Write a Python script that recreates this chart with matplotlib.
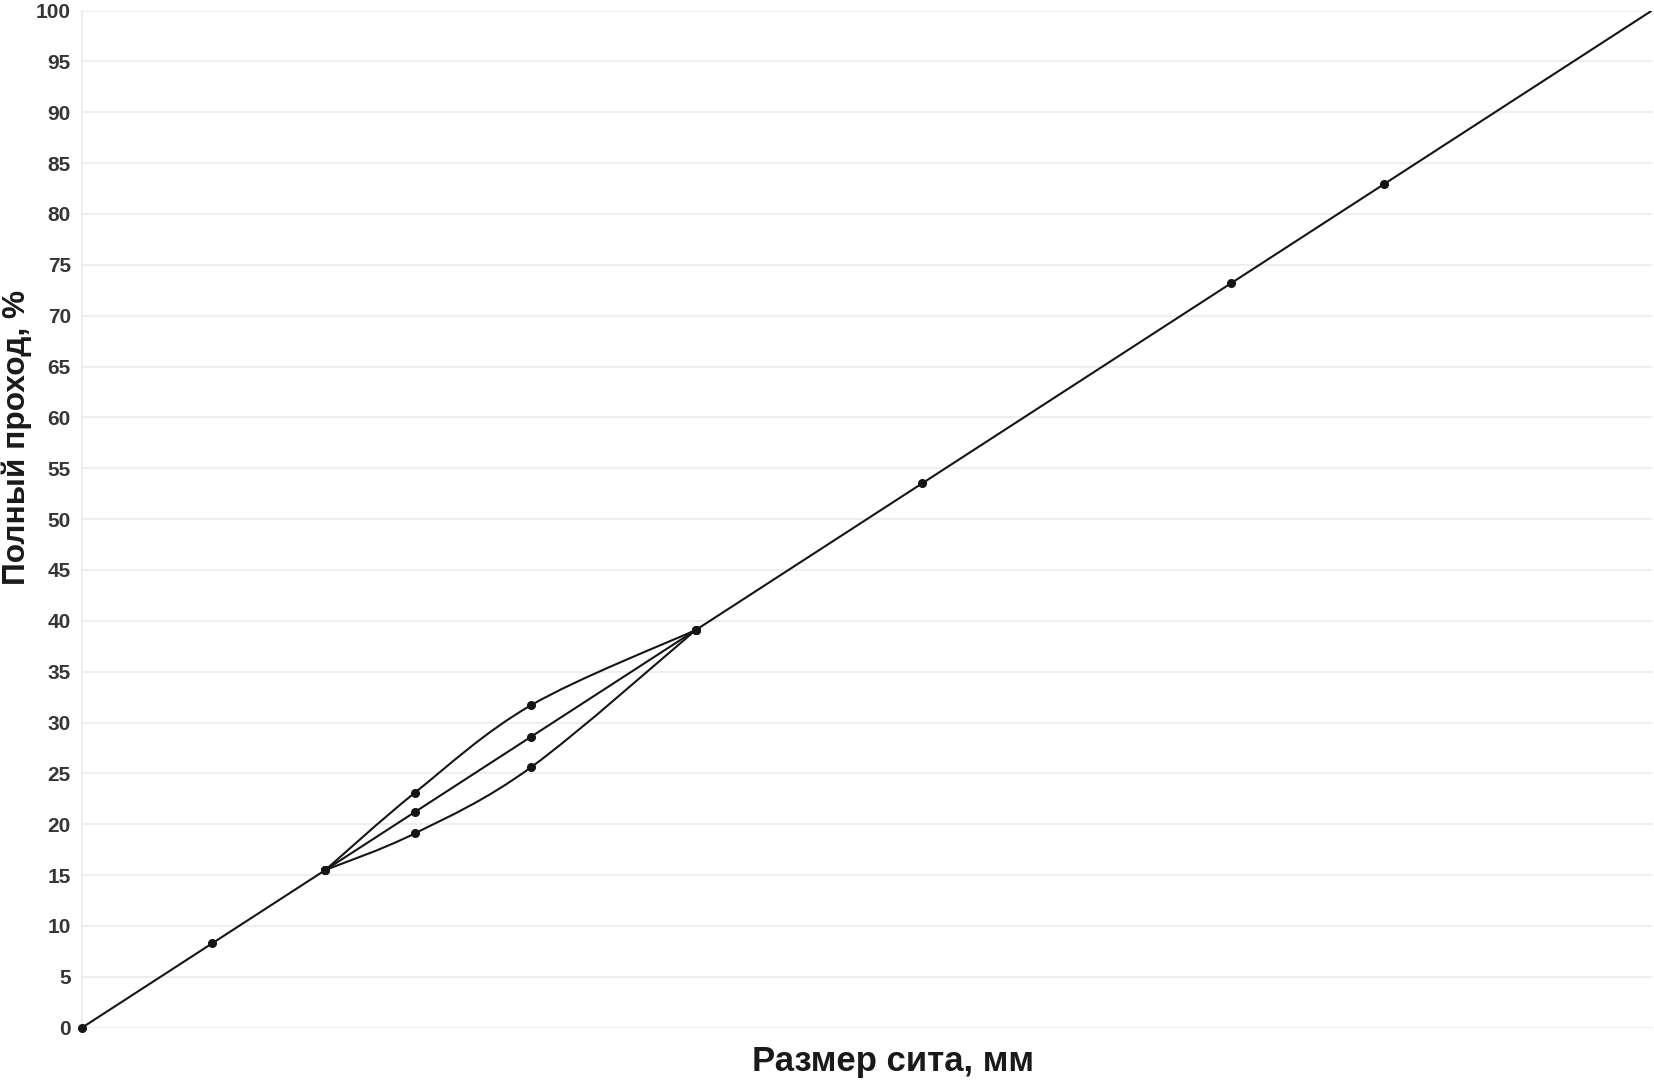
import numpy as np
import matplotlib.pyplot as plt
from matplotlib.path import Path
from matplotlib.patches import PathPatch

plt.rcParams['font.family'] = ['Liberation Sans', 'DejaVu Sans']

# sieve position (relative, no labels on x) and passing values
x_main = [0, 8.3, 15.5, 21.2, 28.6, 39.1, 53.5, 73.2, 82.9, 100]
y_main = [0, 8.3, 15.5, 21.2, 28.6, 39.1, 53.5, 73.2, 82.9, 100]

# upper and lower envelopes between 15.5 and 39.1
x_env = [15.5, 21.2, 28.6, 39.1]
y_upper = [15.5, 23.1, 31.7, 39.1]
y_lower = [15.5, 19.1, 25.6, 39.1]

y_ticks = list(range(0, 101, 5))


def smooth_path(xs, ys, t=1 / 6):
    # Catmull-Rom style smoothing turned into cubic bezier segments
    pts = np.column_stack([xs, ys]).astype(float)
    n = len(pts)
    verts = [pts[0]]
    codes = [Path.MOVETO]
    for i in range(n - 1):
        p0 = pts[i - 1] if i > 0 else pts[i]
        p1 = pts[i]
        p2 = pts[i + 1]
        p3 = pts[i + 2] if i + 2 < n else pts[i + 1]
        c1 = p1 + (p2 - p0) * t
        c2 = p2 - (p3 - p1) * t
        verts += [c1, c2, p2]
        codes += [Path.CURVE4] * 3
    return Path(verts, codes)


fig = plt.figure(figsize=(16.54, 10.83), dpi=100)
ax = fig.add_axes([0.0496, 0.0511, 0.9492, 0.9392])

line_col = '#151515'
ax.plot(x_main, y_main, color=line_col, lw=1.5, zorder=3)
ax.plot(x_main[:-1], y_main[:-1], 'o', color=line_col, ms=5.5, zorder=4, clip_on=False)
for ys in (y_upper, y_lower):
    ax.add_patch(PathPatch(smooth_path(x_env, ys), fill=False,
                           edgecolor=line_col, lw=1.5, zorder=3))
    ax.plot(x_env, ys, 'o', color=line_col, ms=5.5, zorder=4)

ax.set_xlim(0, 100)
ax.set_ylim(0, 100)
ax.set_yticks(y_ticks)
ax.set_xticks([])
ax.grid(axis='y', color='#ebebeb', lw=1.2)
ax.set_axisbelow(True)
ax.tick_params(axis='y', length=0, pad=8, labelsize=15, labelcolor='#363636')
for lab in ax.get_yticklabels():
    lab.set_fontweight('bold')

for s in ['top', 'right', 'bottom']:
    ax.spines[s].set_visible(False)
ax.spines['left'].set_color('#ebebeb')
ax.spines['left'].set_linewidth(1.2)

fig.text(0.0103, 0.5965, 'Полный проход, %', rotation=90, ha='center', va='center',
         fontsize=22.8, fontweight='bold', color='#1a1a1a')
fig.text(0.54, 0.0195, 'Размер сита, мм', ha='center', va='center',
         fontsize=25, fontweight='bold', color='#1a1a1a')

plt.savefig('out.png', dpi=100)
